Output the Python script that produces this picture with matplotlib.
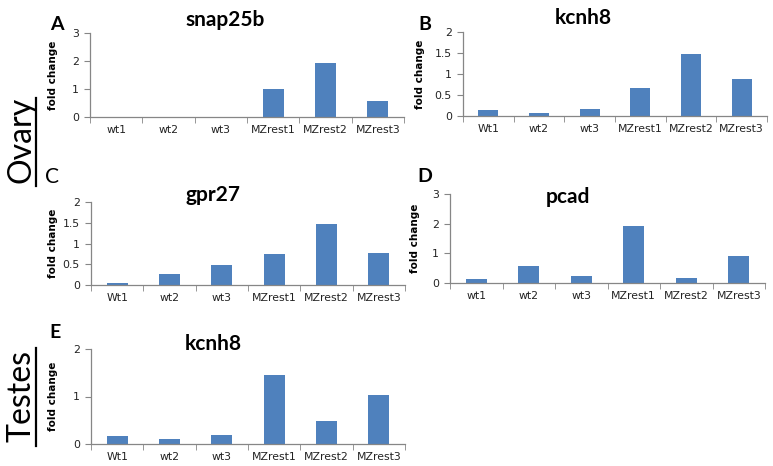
import matplotlib.pyplot as plt
import numpy as np

samples_a = ["wt1", "wt2", "wt3", "MZrest1", "MZrest2", "MZrest3"]
samples_b = ["Wt1", "wt2", "wt3", "MZrest1", "MZrest2", "MZrest3"]

snap25b = [0, 0, 0, 0.99, 1.93, 0.57]
kcnh8_ovary = [0.14, 0.07, 0.16, 0.66, 1.48, 0.88]
gpr27 = [0.05, 0.27, 0.47, 0.74, 1.47, 0.76]
pcad = [0.13, 0.57, 0.24, 1.93, 0.17, 0.91]
kcnh8_testes = [0.17, 0.11, 0.20, 1.46, 0.49, 1.03]

W, H = 773, 466
fig = plt.figure(figsize=(W / 100, H / 100), dpi=100)

BLUE = "#4F81BD"
GREY = "#868686"


def px_axes(left, top, right, bottom):
    return fig.add_axes([left / W, 1 - bottom / H, (right - left) / W, (bottom - top) / H])


def panel(box, labels, values, ymax, ystep, ylab_x):
    ax = px_axes(*box)
    x = np.arange(len(labels))
    ax.bar(x, values, width=0.4, color=BLUE, zorder=2)
    ax.set_xlim(-0.5, len(labels) - 0.5)
    ax.set_ylim(0, ymax)
    ticks = np.arange(0, ymax + ystep / 2, ystep)
    ax.set_yticks(ticks)
    ax.set_yticklabels([f"{v:g}" for v in ticks])
    ax.set_xticks(x)
    ax.set_xticklabels(labels)
    ax.set_xticks(np.arange(-0.5, len(labels)), minor=True)
    ax.tick_params(axis="x", which="major", length=0, pad=6, labelsize=7.8, labelcolor="#222222")
    ax.tick_params(axis="x", which="minor", length=4, color=GREY, direction="out")
    ax.tick_params(axis="y", length=4, color=GREY, labelsize=7.8, labelcolor="#222222", pad=4)
    for s in ["top", "right"]:
        ax.spines[s].set_visible(False)
    for s in ["left", "bottom"]:
        ax.spines[s].set_color(GREY)
        ax.spines[s].set_linewidth(0.9)
    ax.set_ylabel("fold change", fontsize=7.5, fontweight="bold")
    ax.yaxis.set_label_coords((ylab_x - box[0]) / (box[2] - box[0]), 0.5)
    return ax


panel((90, 33, 404, 117), samples_a, snap25b, 3, 1, 58)
panel((463, 32, 767, 116), samples_b, kcnh8_ovary, 2, 0.5, 425)
panel((91, 202, 405, 285), samples_b, gpr27, 2, 0.5, 58)
panel((450, 194, 765, 283), samples_a, pcad, 3, 1, 420)
panel((91, 349, 405, 444), samples_b, kcnh8_testes, 2, 1, 58)


def ftext(x, y, s, **kw):
    fig.text(x / W, 1 - y / H, s, ha="center", va="center", **kw)


title_kw = dict(fontsize=15, fontweight="bold", family="Lato")
ftext(225, 20, "snap25b", **title_kw)
ftext(583, 18, "kcnh8", **title_kw)
ftext(213, 195, "gpr27", **title_kw)
ftext(568, 197, "pcad", **title_kw)
ftext(213, 344, "kcnh8", **title_kw)

letter_kw = dict(fontsize=14, fontweight="bold", family="Lato")
ftext(57, 25, "A", **letter_kw)
ftext(425, 25, "B", **letter_kw)
ftext(52, 177, "C", fontsize=15, family="Lato")
ftext(425, 177, "D", **letter_kw)
ftext(55, 333, "E", **letter_kw)

ftext(22, 140, "Ovary", fontsize=23, rotation=90, family="Lato")
ftext(22, 396, "Testes", fontsize=23, rotation=90, family="Lato")
fig.add_artist(plt.Line2D([36 / W, 36 / W], [1 - 98 / H, 1 - 186 / H], color="black", lw=1.6))
fig.add_artist(plt.Line2D([36 / W, 36 / W], [1 - 348 / H, 1 - 446 / H], color="black", lw=1.6))

fig.savefig("out.png", dpi=100)
